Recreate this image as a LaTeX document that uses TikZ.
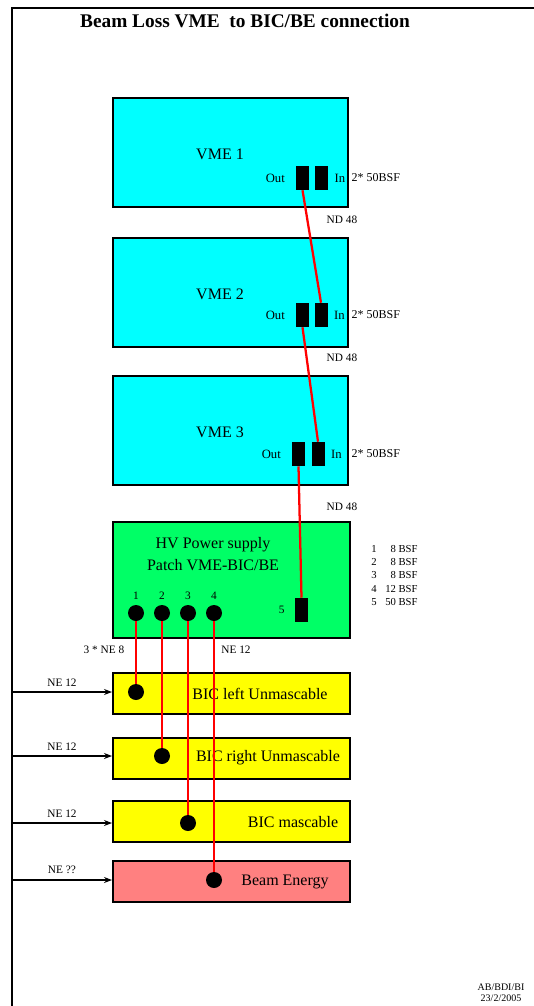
\documentclass[tikz,border=0pt]{standalone}
\usepackage{fontspec}
\setmainfont{Liberation Serif}
\usetikzlibrary{positioning,arrows.meta}
\definecolor{vmecyan}{RGB}{0,255,255}
\definecolor{hvgreen}{RGB}{0,255,102}
\definecolor{bicyellow}{RGB}{255,255,0}
\definecolor{beampink}{RGB}{255,128,128}
\definecolor{cablered}{RGB}{255,0,0}
\tikzset{
  crate/.style={draw, line width=1.5pt, fill=vmecyan, minimum width=176pt, minimum height=81.75pt, inner sep=0pt},
  patch/.style={draw, line width=1.5pt, fill=hvgreen, minimum width=177.75pt, minimum height=87pt, inner sep=0pt},
  bic/.style={draw, line width=1.5pt, fill=#1, minimum width=177.75pt, minimum height=30.75pt, inner sep=0pt},
  plug/.style={fill=black, minimum width=9.75pt, minimum height=18pt, inner sep=0pt},
  pin/.style={circle, fill=black, minimum size=12pt, inner sep=0pt},
  boxtext/.style={font=\fontsize{12}{16.5}\selectfont, inner sep=1pt},
  portlabel/.style={font=\fontsize{9.5}{11}\selectfont, inner sep=1pt},
  smalltext/.style={font=\fontsize{8.5}{10}\selectfont, inner sep=1pt},
  cable/.style={cablered, line width=1.7pt},
  feed/.style={line width=0.8pt, -{Stealth[length=6pt, width=4.5pt]}},
}
\begin{document}
\begin{tikzpicture}[x=0.75pt, y=-0.75pt]
  \useasboundingbox (0,0) rectangle (534,1006);
  % frame and title
  \coordinate (frameTL) at (12,8);
  \draw[line width=1.1pt] (12,1010) -- (frameTL) -- (540,8);
  \node[font=\fontsize{14.5}{17}\selectfont\bfseries] (title) at (245,21) {Beam Loss VME\ \ to BIC/BE connection};

  % VME crates with Out/In connectors
  \foreach \i/\y/\xo/\xi/\yc in {1/152.5/302.5/321.5/178, 2/292/302.5/321/315, 3/430.5/298.5/318/454} {
    \node[crate] (vme\i) at (230.5,\y) {};
    \node[boxtext] (vme\i txt) at (220,\y+2) {VME \i};
    \node[plug] (out\i) at (\xo,\yc) {};
    \node[plug] (in\i) at (\xi,\yc) {};
    \node[portlabel, left=7pt of out\i] (out\i lbl) {Out};
    \node[portlabel, right=3.5pt of in\i] (in\i lbl) {In};
    \node[portlabel, font=\fontsize{9}{11}\selectfont, anchor=west] (bsf\i) at (350,\yc) {2* 50BSF};
  }
  \node[smalltext] (nd1) at (342,220) {ND 48};
  \node[smalltext] (nd2) at (342,358) {ND 48};
  \node[smalltext] (nd3) at (342,507) {ND 48};

  % HV power supply / patch panel
  \node[patch] (hv) at (231.5,580) {};
  \node[boxtext, align=center] (hvtxt) at (213,554) {HV Power supply\\Patch VME-BIC/BE};
  \foreach \n/\x in {1/136, 2/162, 3/188, 4/214} {
    \node[pin] (hv\n) at (\x,613) {};
    \node[smalltext, above=3pt of hv\n] (hv\n lbl) {\n};
  }
  \node[plug] (port5) at (301.5,610) {};
  \node[smalltext, left=6.5pt of port5] (port5lbl) {5};
  \node[font=\fontsize{8}{10}\selectfont, anchor=west, inner sep=0pt] (bsflist) at (371,576)
    {\begin{tabular}{@{}l@{\hspace{6.5pt}}r@{ BSF}}1&8\\2&8\\3&8\\4&12\\5&50\end{tabular}};

  % cables between crates
  \draw[cable] (out1.south) -- (in2.north);
  \draw[cable] (out2.south) -- (in3.north);
  \draw[cable] (out3.south) -- (port5.north);

  % BIC / BE targets
  \node[bic=bicyellow] (bl) at (231.5,693.5) {};
  \node[bic=bicyellow] (br) at (231.5,758.5) {};
  \node[bic=bicyellow] (bm) at (231.5,821.5) {};
  \node[bic=beampink] (be) at (231.5,881) {};
  \node[boxtext] (bltxt) at (260,694) {BIC left Unmascable};
  \node[boxtext] (brtxt) at (268,758) {BIC right Unmascable};
  \node[boxtext] (bmtxt) at (293,822) {BIC mascable};
  \node[boxtext] (betxt) at (285,882) {Beam Energy};
  \node[pin] (blpin) at (136,692) {};
  \node[pin] (brpin) at (162,756) {};
  \node[pin] (bmpin) at (188,823) {};
  \node[pin] (bepin) at (214,880) {};
  \draw[cable] (hv1) -- (blpin);
  \draw[cable] (hv2) -- (brpin);
  \draw[cable] (hv3) -- (bmpin);
  \draw[cable] (hv4) -- (bepin);
  \node[smalltext] (ne8) at (104,650) {3 * NE 8};
  \node[smalltext] (ne12) at (236,650) {NE 12};

  % inputs from the left
  \draw[feed] (frameTL |- blpin) -- (bl.west |- blpin) node[midway, above=3pt, smalltext] {NE 12};
  \draw[feed] (frameTL |- brpin) -- (br.west |- brpin) node[midway, above=3pt, smalltext] {NE 12};
  \draw[feed] (frameTL |- bmpin) -- (bm.west |- bmpin) node[midway, above=3pt, smalltext] {NE 12};
  \draw[feed] (frameTL |- bepin) -- (be.west |- bepin) node[midway, above=3pt, smalltext] {NE ??};

  % footer
  \node[font=\fontsize{7.5}{8.25}\selectfont, align=center] (footer) at (501,993) {AB/BDI/BI\\23/2/2005};
\end{tikzpicture}
\end{document}
